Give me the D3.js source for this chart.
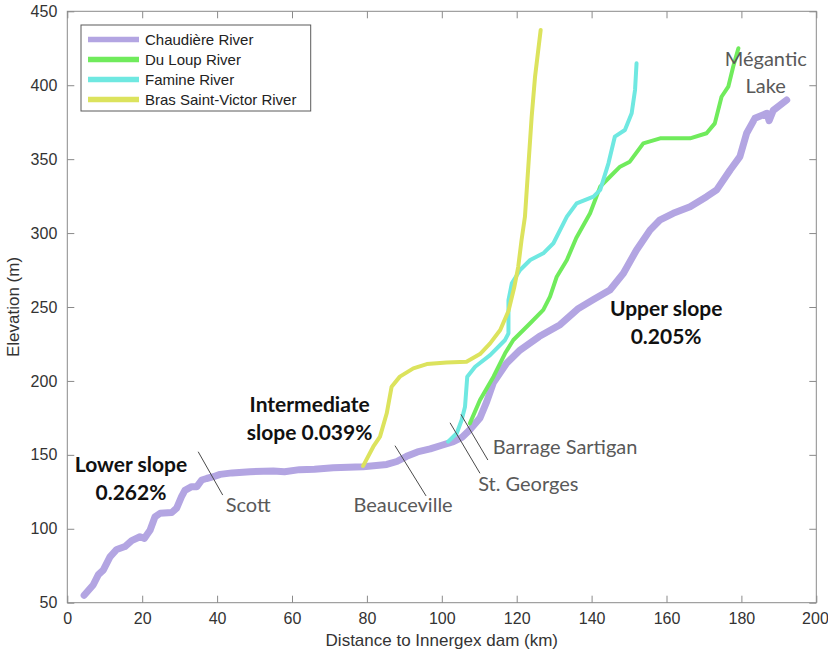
<!DOCTYPE html>
<html>
<head>
<meta charset="utf-8">
<script src="https://cdn.jsdelivr.net/npm/d3@7/dist/d3.min.js"></script>
<style>
  html, body { margin: 0; padding: 0; background: #fff; }
  svg { display: block; }
</style>
</head>
<body>
<svg id="chart" width="828" height="660"></svg>
<script>
// ---------------- DATA ----------------
const seriesNames = ["Chaudière River", "Du Loup River", "Famine River", "Bras Saint-Victor River"];

const chaudiere = [
  [4.5,55],[6.9,62],[8.3,69],[9.6,72],[11.4,81],[13.2,86],[15.4,88],[17.2,92],[19.4,94.6],[20.6,93.5],[21.2,95.8],
  [22.1,99],[23.4,108],[24.8,110.5],[27.9,111],[29.2,114],[30.5,121.7],[31.4,126],[33.2,128.5],[34.6,128.5],
  [35.9,133],[37.2,134],[39,135.2],[40.8,136.8],[44,137.8],[48.8,138.6],[55,139],[58,138.6],[62,140],[66,140.2],
  [71,141.3],[75,141.6],[79,142],[85.3,143.5],[88,145.5],[90.6,149],[93.5,152],[96.9,154],[100,156.5],[103.1,159],
  [105.5,162],[107.5,167],[110.2,175],[112,186],[113.8,199],[117.3,212],[120.9,220.9],[126,230],[131.6,238],
  [136.5,249],[140.5,255],[144.9,261.5],[148.5,272.8],[152,288.6],[155.6,302],[158.3,309],[161.8,313.4],
  [166.3,317.8],[170.7,324.6],[173.4,329.2],[177,342.7],[179.6,351.7],[181.4,367.5],[183.6,377.6],[186.8,381],
  [187.4,376],[188.5,383],[192.1,390]
];

const duLoup = [
  [107.5,171.3],[110.2,187.1],[113.8,202.9],[116.9,218.7],[119.1,227.7],[123.6,239],[127.1,248],[128.9,257],
  [130.7,270.5],[133.4,281.8],[135.9,296.7],[139.6,313.4],[142.3,331.4],[144.9,338.1],[147.6,344.9],[150.2,348.3],
  [153.8,360.7],[158.3,364.1],[166.3,364.1],[170.7,367.5],[172.9,374.2],[174.7,392.2],[176.5,399],[177.8,412.5],
  [179.2,425]
];

const famine = [
  [101.7,158.9],[104,164.6],[105.3,173.6],[106.2,182.6],[106.8,202.9],[108.9,209.6],[112.9,217.5],[116.9,227.7],
  [117.8,232.2],[117.8,254.7],[118.7,266],[120.9,275],[123.6,281.8],[127.1,286.3],[129.8,293.1],[133.4,311.1],
  [136,320.1],[140.5,324.6],[142.3,329.2],[144.5,347.2],[146.2,365.2],[148.9,369.7],[150.7,381],[151.6,396.8],
  [152,414.8]
];

const brasSaintVictor = [
  [79,142.5],[81.7,155.5],[83.5,162.3],[85.3,178.1],[86.6,196.1],[88.8,202.9],[92.4,208.5],[96,211.4],
  [101.3,212.5],[106.6,213],[110.2,218.2],[112.9,225.4],[115.6,234.4],[117.8,247.3],[119.3,262.8],[120.4,277],
  [121.3,295.4],[122.2,311],[123.1,344.9],[124,378.7],[124.9,405.8],[126.4,437.4]
];

const xTicks = [0,20,40,60,80,100,120,140,160,180,200];
const yTicks = [50,100,150,200,250,300,350,400,450];

// place labels (data coordinates)
const placeLabels = [
  { text: "Scott",            x: 42.3,  y: 111.3, anchor: "start" },
  { text: "Beauceville",      x: 76.4,  y: 111.3, anchor: "start" },
  { text: "St. Georges",      x: 109.7, y: 125.6, anchor: "start" },
  { text: "Barrage Sartigan", x: 113.6, y: 150.6, anchor: "start" },
  { text: "Mégantic",         x: 186.5, y: 413,   anchor: "middle" },
  { text: "Lake",             x: 186.5, y: 395,   anchor: "middle" }
];
const leaders = [
  { x1: 34.95, y1: 152.1, x2: 41.5,  y2: 122.8 },
  { x1: 87.5,  y1: 156.2, x2: 95.8,  y2: 122.2 },
  { x1: 102.2, y1: 171.7, x2: 110.2, y2: 137.5 },
  { x1: 105.1, y1: 177.4, x2: 112.3, y2: 146.5 }
];
const slopeLabels = [
  { lines: ["Lower slope", "0.262%"],          x: 17.0,  y: 138.4 },
  { lines: ["Intermediate", "slope 0.039%"],   x: 64.7,  y: 179 },
  { lines: ["Upper slope", "0.205%"],          x: 159.9, y: 244 }
];

// ---------------- CHART ----------------
const colors = ["#b3a5e2", "#70eb5c", "#6fe8e1", "#dce35d"];
const widths = [7, 4, 4, 4];
const allSeries = [chaudiere, duLoup, famine, brasSaintVictor];

const svg = d3.select("#chart");
const L = 67.3, R = 816.3, T = 11.3, B = 602.7;
const x = d3.scaleLinear().domain([0, 200]).range([L, R]);
const y = d3.scaleLinear().domain([50, 450]).range([B, T]);

svg.append("rect").attr("width", 828).attr("height", 660).attr("fill", "#fff");

const axisColor = "#8a8a8a";
const tickFont = "'Liberation Sans', Arial, sans-serif";

function styleAxis(g) {
  g.selectAll("path.domain").remove();
  g.selectAll(".tick line").attr("stroke", axisColor);
  g.selectAll(".tick text").attr("fill", "#333").style("font-family", tickFont).style("font-size", "16px");
}

const xAxisG = svg.append("g").attr("transform", `translate(0,${B})`)
  .call(d3.axisBottom(x).tickValues(xTicks).tickSizeInner(-7).tickSizeOuter(0).tickPadding(10).tickFormat(d3.format("d")))
  .call(styleAxis);
// keep the last label inside the picture
xAxisG.selectAll(".tick text").filter(d => d === 200).attr("text-anchor", "end").attr("dx", "12");
svg.append("g").attr("transform", `translate(0,${T})`)
  .call(d3.axisTop(x).tickValues(xTicks).tickSizeInner(-7).tickSizeOuter(0).tickFormat(""))
  .call(styleAxis);
svg.append("g").attr("transform", `translate(${L},0)`)
  .call(d3.axisLeft(y).tickValues(yTicks).tickSizeInner(-7).tickSizeOuter(0).tickPadding(10).tickFormat(d3.format("d")))
  .call(styleAxis);
svg.append("g").attr("transform", `translate(${R},0)`)
  .call(d3.axisRight(y).tickValues(yTicks).tickSizeInner(-7).tickSizeOuter(0).tickFormat(""))
  .call(styleAxis);

svg.append("rect").attr("x", L).attr("y", T).attr("width", R - L).attr("height", B - T)
  .attr("fill", "none").attr("stroke", axisColor).attr("stroke-width", 1);

// axis titles
svg.append("text").attr("x", (L + R) / 2).attr("y", 646).attr("text-anchor", "middle")
  .style("font-family", tickFont).style("font-size", "17px").attr("fill", "#333")
  .text("Distance to Innergex dam (km)");
svg.append("text").attr("transform", `translate(19,${(T + B) / 2}) rotate(-90)`).attr("text-anchor", "middle")
  .style("font-family", tickFont).style("font-size", "17px").attr("fill", "#333")
  .text("Elevation (m)");

// lines
const line = d3.line().x(d => x(d[0])).y(d => y(d[1]));
allSeries.forEach((s, i) => {
  svg.append("path").datum(s).attr("d", line)
    .attr("fill", "none").attr("stroke", colors[i]).attr("stroke-width", widths[i])
    .attr("stroke-linejoin", "round").attr("stroke-linecap", "round");
});

// leaders
svg.selectAll("line.leader").data(leaders).enter().append("line")
  .attr("x1", d => x(d.x1)).attr("y1", d => y(d.y1)).attr("x2", d => x(d.x2)).attr("y2", d => y(d.y2))
  .attr("stroke", "#4a4a4a").attr("stroke-width", 1);

const annFont = "Lato, 'Open Sans', sans-serif";
svg.selectAll("text.place").data(placeLabels).enter().append("text")
  .attr("x", d => x(d.x)).attr("y", d => y(d.y)).attr("text-anchor", d => d.anchor)
  .style("font-family", annFont).style("font-size", "20px").attr("fill", "#595959")
  .text(d => d.text);

slopeLabels.forEach(d => {
  d.lines.forEach((t, k) => {
    svg.append("text").attr("x", x(d.x)).attr("y", y(d.y) + k * 28).attr("text-anchor", "middle")
      .style("font-family", annFont).style("font-size", "21px").style("font-weight", "bold").attr("fill", "#111")
      .text(t);
  });
});

// legend
const lg = svg.append("g");
lg.append("rect").attr("x", 81).attr("y", 25).attr("width", 229.7).attr("height", 86)
  .attr("fill", "#fff").attr("stroke", "#5a5a5a").attr("stroke-width", 1);
seriesNames.forEach((n, i) => {
  const yy = 39.5 + i * 20;
  lg.append("line").attr("x1", 88).attr("x2", 139).attr("y1", yy).attr("y2", yy)
    .attr("stroke", colors[i]).attr("stroke-width", 5.5);
  lg.append("text").attr("x", 145).attr("y", yy + 5).style("font-family", tickFont).style("font-size", "15px")
    .attr("fill", "#222").text(n);
});
</script>
</body>
</html>
